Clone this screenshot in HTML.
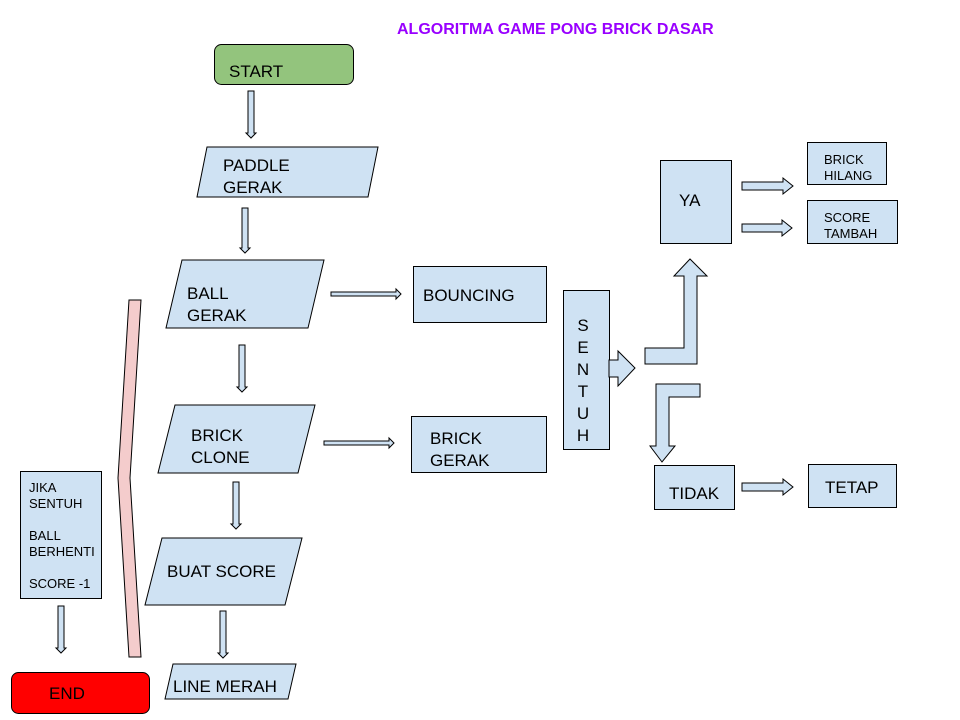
<!DOCTYPE html>
<html><head><meta charset="utf-8"><style>
html,body{margin:0;padding:0;background:#fff;}
svg{display:block;font-family:"Liberation Sans",Arial,sans-serif;}
</style></head><body>
<svg width="960" height="720" viewBox="0 0 960 720" xmlns="http://www.w3.org/2000/svg">
<g stroke="#000" stroke-width="1" fill="#cfe2f3">
<rect x="214.5" y="44.5" width="139" height="40" rx="7" fill="#93c47d"/>
<polygon points="207,147 378,147 368,197 197,197"/>
<polygon points="182,260 324,260 308,328 166,328"/>
<polygon points="175,405 315,405 298,473 158,473"/>
<polygon points="162,538 302,538 285,605 145,605"/>
<polygon points="173,664 296,664 288,699 165,699"/>
<rect x="413.5" y="266.5" width="133" height="56"/>
<rect x="411.5" y="416.5" width="135" height="56"/>
<rect x="563.5" y="290.5" width="46" height="159"/>
<polygon points="609,360 618,360 618,351 635,368 618,386 618,377 609,377"/>
<polygon points="645,348 684,348 684,276 674,276 690,259 707,276 697,276 697,364 645,364"/>
<polygon points="656,384 700,384 700,397 669,397 669,446 675,446 662,462 650,446 656,446"/>
<rect x="660.5" y="160.5" width="71" height="83"/>
<rect x="807.5" y="142.5" width="79" height="42"/>
<rect x="807.5" y="200.5" width="90" height="43"/>
<rect x="654.5" y="465.5" width="80" height="44"/>
<rect x="808.5" y="464.5" width="88" height="43"/>
<rect x="20.5" y="471.5" width="81" height="127"/>
<rect x="11.5" y="672.5" width="138" height="41" rx="7" fill="#ff0000"/>
<polygon points="129,300 141,300 130,478 141,657 129,657 118,478" fill="#f4cccc"/>
<!-- small arrows vertical -->
<polygon points="248,91 254,91 254,133 256,133 251,138 246,133 248,133"/>
<polygon points="242,208 248,208 248,248 250,248 245,253 240,248 242,248"/>
<polygon points="239,345 245,345 245,387 247,387 242,392 237,387 239,387"/>
<polygon points="233,482 239,482 239,524 241,524 236,529 231,524 233,524"/>
<polygon points="220,611 226,611 226,653 228,653 223,658 218,653 220,653"/>
<polygon points="58,606 64,606 64,648 66,648 61,653 56,648 58,648"/>
<!-- small horizontal -->
<polygon points="331,292 396,292 396,289 401,294 396,299 396,296 331,296"/>
<polygon points="324,441 389,441 389,438 394,443 389,448 389,445 324,445"/>
<!-- thicker arrows right -->
<polygon points="742,182 783,182 783,178 793,186 783,194 783,190 742,190"/>
<polygon points="742,224 782,224 782,220 792,228 782,236 782,232 742,232"/>
<polygon points="742,483 783,483 783,479 793,487 783,495 783,491 742,491"/>
</g>
<text x="397" y="34" font-size="16" font-weight="bold" fill="#9900ff">ALGORITMA GAME PONG BRICK DASAR</text>
<g font-size="17" fill="#000">
<text x="229" y="77">START</text>
<text x="223" y="171">PADDLE</text><text x="223" y="193">GERAK</text>
<text x="187" y="299">BALL</text><text x="187" y="321">GERAK</text>
<text x="191" y="441">BRICK</text><text x="191" y="463">CLONE</text>
<text x="167" y="577">BUAT SCORE</text>
<text x="173" y="692">LINE MERAH</text>
<text x="423" y="301">BOUNCING</text>
<text x="430" y="444">BRICK</text><text x="430" y="466">GERAK</text>
<text x="679" y="206">YA</text>
<text x="669" y="499">TIDAK</text>
<text x="825" y="493">TETAP</text>
<text x="49" y="699">END</text>
<g text-anchor="middle">
<text x="583" y="331">S</text><text x="583" y="353">E</text><text x="583" y="375">N</text><text x="583" y="397">T</text><text x="583" y="419">U</text><text x="583" y="441">H</text>
</g>
</g>
<g font-size="13" fill="#000">
<text x="824" y="164">BRICK</text><text x="824" y="180">HILANG</text>
<text x="824" y="222">SCORE</text><text x="824" y="238">TAMBAH</text>
<text x="29" y="492">JIKA</text><text x="29" y="508">SENTUH</text>
<text x="29" y="540">BALL</text><text x="29" y="556">BERHENTI</text>
<text x="29" y="588">SCORE -1</text>
</g>
</svg>
</body></html>
